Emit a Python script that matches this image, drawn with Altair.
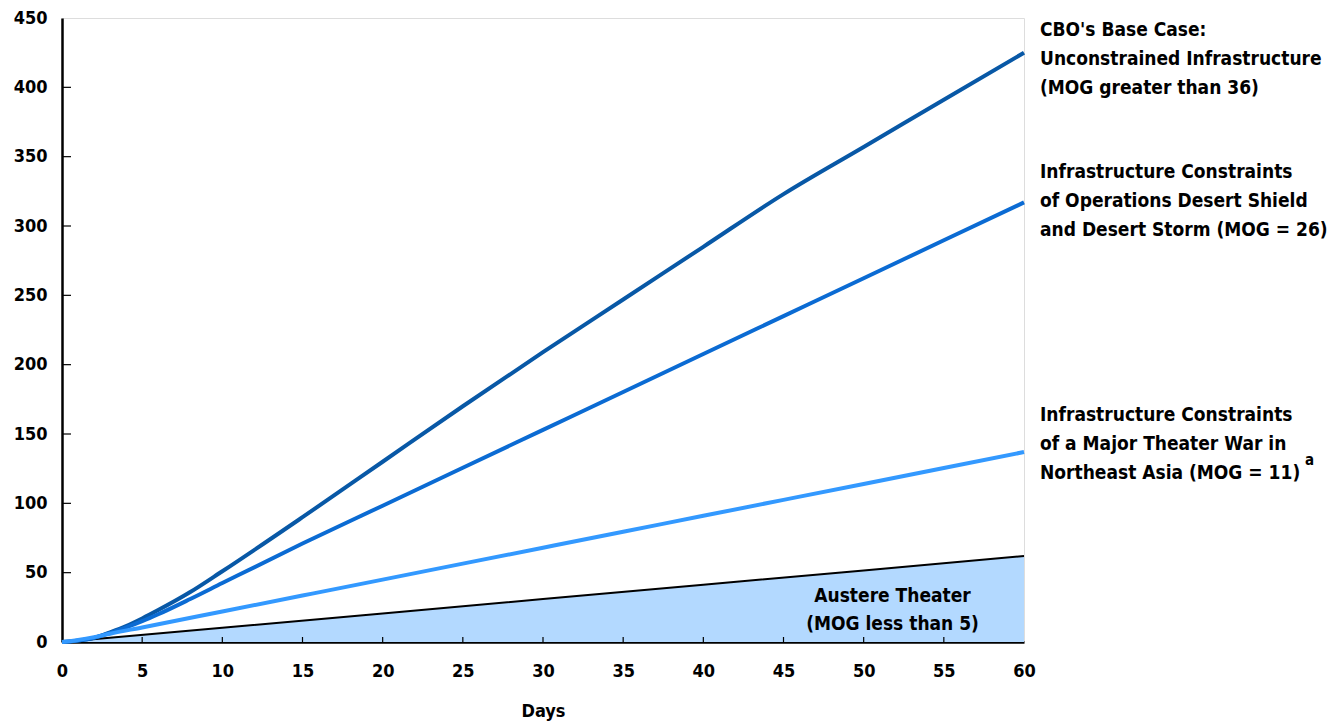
import altair as alt
import pandas as pd

FONT = "DejaVu Sans Condensed, DejaVu Sans, sans-serif"

days_base = [0, 1, 2, 3, 4, 5, 6, 8, 10, 15, 20, 25, 30, 35, 40, 45, 50, 55, 60]
base_case = [0, 1, 3, 7, 11.5, 17, 23, 36, 51, 90, 130, 170, 209, 247, 285, 323, 357, 391, 425]
desert = [0, 1, 3, 6.5, 10.5, 15, 20, 31, 42.5, 71, 98.3, 125.7, 153, 180.3, 207.7, 235, 262.3, 289.7, 317]

days_ne = [0, 1, 2, 3, 5, 10, 15, 20, 25, 30, 35, 40, 45, 50, 55, 60]
northeast = [0, 1.5, 3.5, 6, 10.5, 22, 33.5, 45, 56.5, 68, 79.5, 91, 102.5, 114, 125.5, 137]

days_aus = [0, 10, 20, 30, 40, 50, 60]
austere = [0, 10.3, 20.6, 31, 41.3, 51.6, 62]

y_ticks = [0, 50, 100, 150, 200, 250, 300, 350, 400, 450]
x_ticks = [0, 5, 10, 15, 20, 25, 30, 35, 40, 45, 50, 55, 60]

labels = [
    "CBO's Base Case:\nUnconstrained Infrastructure\n(MOG greater than 36)",
    "Infrastructure Constraints\nof Operations Desert Shield\nand Desert Storm (MOG = 26)",
    "Infrastructure Constraints\nof a Major Theater War in\nNortheast Asia (MOG = 11)",
]
label_y = [441, 339, 163.5]
austere_label = "Austere Theater\n(MOG less than 5)"

x_scale = alt.Scale(domain=[0, 60], nice=False, zero=True)
y_scale = alt.Scale(domain=[0, 450], nice=False)

df_base = pd.DataFrame({"day": days_base, "v": base_case})
df_des = pd.DataFrame({"day": days_base, "v": desert})
df_ne = pd.DataFrame({"day": days_ne, "v": northeast})
df_aus = pd.DataFrame({"day": days_aus, "v": austere})

X = alt.X("day:Q", scale=x_scale,
          axis=alt.Axis(values=x_ticks, title="Days", ticks=False, grid=False,
                        labelFlush=False, labelPadding=20, titlePadding=22,
                        domainColor="black", domainWidth=2.5, labelFontSize=18,
                        labelFontWeight="bold", titleFontSize=18, titleFontWeight="bold",
                        labelColor="black", titleColor="black", labelFont=FONT,
                        titleFont=FONT))
Y = alt.Y("v:Q", scale=y_scale,
          axis=alt.Axis(values=y_ticks, title=None, ticks=False, grid=False,
                        labelFlush=False, labelPadding=15, domainColor="black",
                        domainWidth=2.5, labelFontSize=18, labelFontWeight="bold",
                        labelColor="black", labelFont=FONT))

area = alt.Chart(df_aus).mark_area(color="#B3D9FF", opacity=1, interpolate="linear").encode(x=X, y=Y)
aus_line = alt.Chart(df_aus).mark_line(color="black", strokeWidth=2).encode(x="day:Q", y="v:Q")

base_line = alt.Chart(df_base).mark_line(color="#0858A6", strokeWidth=4, interpolate="monotone").encode(x="day:Q", y="v:Q")
des_line = alt.Chart(df_des).mark_line(color="#0B6BD3", strokeWidth=4, interpolate="monotone").encode(x="day:Q", y="v:Q")
ne_line = alt.Chart(df_ne).mark_line(color="#3399FF", strokeWidth=4, interpolate="monotone").encode(x="day:Q", y="v:Q")

ytick_df = pd.DataFrame({"v": y_ticks[1:-1]})
yticks = alt.Chart(ytick_df).mark_rule(color="black", strokeWidth=1.2).encode(
    y="v:Q", x=alt.value(0), x2=alt.value(9))
xtick_df = pd.DataFrame({"day": x_ticks[1:-1]})
xticks = alt.Chart(xtick_df).mark_rule(color="black", strokeWidth=1.2).encode(
    x="day:Q", y=alt.value(624), y2=alt.value(619))

lab_df = pd.DataFrame({"day": [60] * 3, "v": label_y, "t": labels})
lab = alt.Chart(lab_df).mark_text(
    align="left", baseline="middle", dx=16, lineBreak="\n", lineHeight=29,
    font=FONT, fontSize=19, fontWeight="bold", color="black", clip=False
).encode(x="day:Q", y="v:Q", text="t:N")

sup_df = pd.DataFrame({"day": [60], "v": [131], "t": ["a"]})
sup = alt.Chart(sup_df).mark_text(
    align="left", baseline="middle", dx=281, font=FONT, fontSize=15,
    fontWeight="bold", color="black", clip=False
).encode(x="day:Q", y="v:Q", text="t:N")

aus_df = pd.DataFrame({"day": [51.8], "v": [33], "t": [austere_label]})
aus_lab = alt.Chart(aus_df).mark_text(
    align="center", baseline="middle", lineBreak="\n", lineHeight=28,
    font=FONT, fontSize=19, fontWeight="bold", color="black"
).encode(x="day:Q", y="v:Q", text="t:N")

chart = alt.layer(
    area, aus_line, base_line, des_line, ne_line, yticks, xticks, lab, sup, aus_lab
).properties(
    width=962, height=624,
    autosize=alt.AutoSizeParams(type="none"),
    padding={"left": 54, "top": 10, "right": 311, "bottom": 82},
).configure_view(
    stroke="black", strokeWidth=2.5
).configure(background="white")

chart.save("out.html", embed_options={"renderer": "svg", "actions": False})
